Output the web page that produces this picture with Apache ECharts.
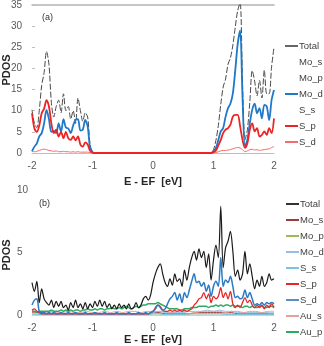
<!DOCTYPE html>
<html>
<head>
<meta charset="utf-8">
<script src="https://cdn.jsdelivr.net/npm/echarts@6/dist/echarts.min.js"></script>
<style>
html, body { margin: 0; padding: 0; background: #fff; }
#chart { width: 324px; height: 346px; }
</style>
</head>
<body>
<div id="chart"></div>
<script>
// energy grids (E - EF, eV): fine grid for main curves, coarse grid for the small ones
const energy = []
for (let i = 0; i <= 100; i++) energy.push(+(-2 + i * 0.04).toFixed(2))
const energyCoarse = []
for (let i = 0; i <= 40; i++) energyCoarse.push(+(-2 + i * 0.1).toFixed(1))

const xTicks = [-2, -1, 0, 1, 2]
const legendTop = ['Total', 'Mo_s', 'Mo_p', 'Mo_d', 'S_s', 'S_p', 'S_d']
const legendBottom = ['Total', 'Mo_s', 'Mo_p', 'Mo_d', 'S_s', 'S_p', 'S_d', 'Au_s', 'Au_p']

// ---- panel (a) ----
const gapZeros = [
  0, 0, 0, 0, 0, 0, 0, 0, 0, 0, 0, 0,
  0, 0, 0, 0, 0, 0, 0, 0, 0, 0, 0, 0,
  0, 0, 0, 0, 0, 0, 0, 0, 0, 0, 0, 0,
  0, 0, 0, 0, 0, 0, 0, 0, 0, 0, 0, 0
]
const aTotal = [
  10.2, 7, 6, 10, 16, 19, 24, 21, 12, 8.5, 11, 12.5, 9.5, 14, 10, 11, 8, 10, 7, 13, 10, 7.5, 9.5, 8.5, 2, 0.3
].concat(gapZeros, [
  0, 0.8, 3, 6.5, 11.5, 15.6, 17.5, 21, 22.5, 25.5, 29.8, 33.7, 35.5, 16.4, 3.1, 5.5, 12, 19.5, 17, 13.5,
  17.2, 13, 19.6, 14, 14, 20.4, 25
])
const aMo_d = [
  0.4, 1.5, 2.3, 3.9, 4.7, 7, 10.2, 8, 5, 5.2, 4.7, 7, 5, 8, 6, 5.8, 4.7, 6.5, 7.8, 8, 5.3, 5.5, 7.8, 6.3, 1.2, 0.2
].concat(gapZeros, [
  0, 0.4, 1.2, 3.1, 5.1, 5.9, 8.6, 10.6, 11.7, 14.1, 19.6, 25.8, 29, 13, 1.6, 3.1, 7, 10.2, 11.7, 9.4,
  10.6, 8.2, 11.4, 11, 7.8, 12.5, 14.9
])
const aS_p = [
  9.4, 5.8, 5, 6.5, 9.4, 10.5, 12.5, 11, 7, 4.7, 5.5, 3.9, 5, 3.5, 5, 3.5, 3.1, 3.9, 3, 3.9, 2, 1.5, 2.5, 2, 0.5, 0.1
].concat(gapZeros, [
  0, 0.2, 0.6, 1.8, 3.1, 4.7, 5.5, 5.9, 6.7, 8.6, 9, 9, 6.3, 3.1, 1.2, 2.3, 5.5, 7, 5.1, 5.9,
  3.9, 4.3, 5.1, 4.3, 5.9, 4.7, 8.2
])
const aS_d = [
  0.4, 0.3, 0.4, 0.6, 0.8, 0.9, 0.8, 0.6, 0.5, 0.4, 0.5, 0.3, 0.3, 0.4, 0.3, 0.3, 0.2, 0.3, 0.2, 0.3, 0.2, 0.2, 0.2, 0.2, 0.1, 0
].concat(gapZeros, [
  0, 0, 0.1, 0.3, 0.5, 0.6, 0.6, 0.7, 0.8, 1, 1.2, 1.3, 1.2, 0.8, 0.3, 0.5, 0.8, 0.9, 0.7, 0.8,
  0.6, 0.7, 0.8, 0.9, 1, 1.3, 1.5
])

// ---- panel (b) ----
const bTotal = [
  2.6, 1.9, 2.7, 1.0, 2.1, 1.3, 1.0, 0.8, 1.2, 0.6, 1.1, 0.7, 1.1, 0.6, 0.8, 0.4, 1.0, 0.6, 1.2, 0.6,
  0.9, 0.5, 1.0, 0.5, 0.9, 0.6, 1.1, 0.7, 1.2, 0.7, 1.1, 0.6, 0.9, 0.5, 0.8, 0.5, 0.9, 0.6, 0.8, 0.5,
  0.9, 0.5, 0.6, 1.0, 0.6, 0.8, 1.3, 1.5, 1.2, 1.6, 2.6, 3.3, 3.8, 4.1, 3.3, 2.6, 2.3, 2.9, 2.4, 3.3,
  2.7, 2.9, 2.3, 3.6, 2.8, 3.8, 4.6, 5.1, 4.4, 5.3, 4.6, 5.1, 3.8, 4.9, 2.8, 4.4, 5.6, 4.6, 8.7, 3.8,
  5.4, 5.9, 6.7, 5.1, 3.1, 3.6, 2.8, 3.3, 5.1, 3.3, 4.1, 3.1, 2.1, 2.8, 2.3, 3.1, 2.3, 2.6, 3.3, 2.8,
  2.9
]
const bS_d = [
  0.8, 1.2, 1.3, 0.3, 0.2, 0.2, 0.1, 0.2, 0.1, 0.2, 0.1, 0.1, 0.2, 0.1, 0.1, 0.2, 0.1, 0.1, 0.2, 0.1,
  0.1, 0.1, 0.2, 0.1, 0.1, 0.1, 0.2, 0.1, 0.1, 0.1, 0.2, 0.1, 0.1, 0.1, 0.1, 0.2, 0.1, 0.1, 0.1, 0.1,
  0.2, 0.1, 0.1, 0.1, 0.2, 0.1, 0.1, 0.2, 0.1, 0.2, 0.3, 0.5, 0.8, 0.6, 0.4, 0.5, 0.9, 1.3, 1.5, 1.8,
  1.2, 1.7, 1.0, 1.8, 1.4, 2.0, 2.7, 3.3, 2.6, 2.7, 2.3, 2.6, 1.9, 2.4, 1.5, 2.3, 2.7, 2.3, 4.6, 2.3,
  2.8, 2.6, 3.1, 2.3, 1.4, 1.5, 1.3, 1.4, 2.0, 1.4, 1.8, 1.3, 0.8, 0.9, 0.8, 1.0, 0.8, 1.0, 0.9, 1.0,
  0.9
]
const bS_p = [
  0.4, 0.5, 0.3, 0.2, 0.1, 0.1, 0.1, 0.1, 0.1, 0.1, 0.1, 0.1, 0.1, 0.1, 0.1, 0.1, 0.1, 0.1, 0.1, 0.1,
  0.1, 0.1, 0.1, 0.1, 0.1, 0.1, 0.1, 0.1, 0.1, 0.1, 0.1, 0.1, 0.1, 0.1, 0.1, 0.1, 0.1, 0.1, 0.1, 0.1,
  0.1, 0.1, 0.1, 0.1, 0.1, 0.1, 0.1, 0.1, 0.1, 0.2, 0.3, 0.6, 0.8, 0.7, 0.4, 0.3, 0.3, 0.4, 0.3, 0.4,
  0.3, 0.4, 0.3, 0.4, 0.3, 0.4, 0.5, 0.8, 1.0, 1.3, 1.4, 1.8, 1.3, 1.7, 1.0, 1.5, 1.3, 1.5, 2.2, 1.4,
  1.8, 1.3, 1.9, 0.9, 0.6, 0.8, 0.6, 1.0, 1.4, 1.0, 1.2, 0.8, 0.6, 0.8, 0.6, 0.8, 0.5, 0.8, 0.6, 0.9,
  0.6
]
const bAu_p = [
  0.3, 0.3, 0.2, 0.3, 0.3, 0.3, 0.3, 0.3, 0.4, 0.3, 0.3, 0.3, 0.4, 0.3, 0.4, 0.3, 0.4, 0.3, 0.4, 0.4,
  0.3, 0.4, 0.4, 0.5, 0.4, 0.4, 0.5, 0.4, 0.5, 0.5, 0.4, 0.5, 0.5, 0.6, 0.5, 0.5, 0.6, 0.5, 0.6, 0.7,
  0.6, 0.5, 0.6, 0.7, 0.6, 0.7, 0.8, 0.8, 0.9, 0.9, 0.9, 0.9, 1.0, 0.9, 0.8, 0.7, 0.6, 0.5, 0.5, 0.5,
  0.5, 0.4, 0.4, 0.5, 0.5, 0.5, 0.6, 0.6, 0.6, 0.7, 0.7, 0.7, 0.7, 0.6, 0.7, 0.7, 0.8, 0.7, 0.8, 0.7,
  0.8, 0.8, 0.7, 0.8, 0.7, 0.7, 0.7, 0.6, 0.7, 0.7, 0.6, 0.7, 0.6, 0.6, 0.7, 0.7, 0.6, 0.6, 0.7, 0.7,
  0.6
]
// small contributions, coarse grid
const bAu_s = [
  0.3, 0.2, 0.2, 0.3, 0.2, 0.2, 0.3, 0.2, 0.2, 0.3, 0.2, 0.2, 0.3, 0.2, 0.3, 0.2, 0.3, 0.3, 0.2, 0.3,
  0.3, 0.3, 0.3, 0.2, 0.3, 0.3, 0.3, 0.2, 0.3, 0.3, 0.3, 0.3, 0.2, 0.3, 0.3, 0.2, 0.3, 0.3, 0.2, 0.3,
  0.3
]
const bMo_s = [
  0.2, 0.2, 0.1, 0.1, 0.1, 0.1, 0.1, 0.1, 0.1, 0.1, 0.1, 0.1, 0.1, 0.1, 0.1, 0.1, 0.1, 0.1, 0.1, 0.1,
  0.2, 0.2, 0.1, 0.1, 0.1, 0.1, 0.1, 0.2, 0.2, 0.2, 0.2, 0.2, 0.2, 0.2, 0.1, 0.1, 0.1, 0.1, 0.1, 0.1,
  0.1
]
const bMo_p = [
  0.1, 0.1, 0.05, 0.05, 0.05, 0.05, 0.05, 0.05, 0.05, 0.05, 0.05, 0.05, 0.05, 0.05, 0.05, 0.05, 0.05, 0.05, 0.05, 0.05,
  0.1, 0.1, 0.05, 0.05, 0.05, 0.05, 0.1, 0.1, 0.1, 0.1, 0.1, 0.1, 0.1, 0.1, 0.05, 0.05, 0.05, 0.05, 0.05, 0.05,
  0.05
]
const bMo_d = [
  0.3, 0.3, 0.2, 0.1, 0.1, 0.1, 0.1, 0.1, 0.1, 0.1, 0.1, 0.1, 0.1, 0.1, 0.1, 0.1, 0.1, 0.1, 0.1, 0.1,
  0.2, 0.3, 0.2, 0.2, 0.2, 0.2, 0.3, 0.3, 0.3, 0.4, 0.3, 0.4, 0.3, 0.3, 0.2, 0.2, 0.2, 0.2, 0.2, 0.2,
  0.2
]
const bS_s = [
  0.05, 0.05, 0.05, 0.05, 0.05, 0.05, 0.05, 0.05, 0.05, 0.05, 0.05, 0.05, 0.05, 0.05, 0.05, 0.05, 0.05, 0.05, 0.05, 0.05,
  0.1, 0.1, 0.05, 0.05, 0.05, 0.05, 0.1, 0.1, 0.1, 0.1, 0.1, 0.1, 0.05, 0.05, 0.05, 0.05, 0.05, 0.05, 0.05, 0.05,
  0.05
]

const FONT = "'Liberation Sans', Arial, sans-serif"
const colors = {
  aTotal: '#4a4a4a', aMo_d: '#1f78c8', aS_p: '#ee2424', aS_d: '#f26d6d',
  bTotal: '#1a1a1a', bMo_s: '#9e3a3a', bMo_p: '#9bbb59', bMo_d: '#95bde6', bS_s: '#7cc3e0',
  bS_p: '#e8262a', bS_d: '#2b7bc4', bAu_s: '#e6a0a0', bAu_p: '#2eaa5e'
}

const pairs = (xs, ys) => xs.map((x, i) => [x, ys[i]])

function line (name, xAxisIndex, xs, ys, color, width, extra) {
  return Object.assign({
    name,
    type: 'line',
    xAxisIndex,
    yAxisIndex: xAxisIndex === 0 ? 0 : 1,
    data: pairs(xs, ys),
    symbol: 'none',
    smooth: 0.3,
    lineStyle: { color, width },
    itemStyle: { color },
    animation: false
  }, extra || {})
}

const hidden = 'rgba(0,0,0,0)'
const lg = (name, color) => ({ name, icon: 'rect', itemStyle: { color, borderWidth: 0 } })

const chart = echarts.init(document.getElementById('chart'))

const xLabel = { fontSize: 10, color: '#595959', fontFamily: FONT, margin: 8, formatter: v => String(v) }
const xName = { fontSize: 11, fontWeight: 'bold', color: '#262626', fontFamily: FONT }
const legendBase = {
  orient: 'vertical', padding: 0, itemGap: 4, itemWidth: 13, itemHeight: 2,
  textStyle: { fontSize: 9.5, color: '#404040', padding: [0, 0, 0, -4], lineHeight: 12, fontFamily: FONT }
}

const option = {
  animation: false,
  textStyle: { fontFamily: FONT },
  grid: [
    { left: 32, top: 4, width: 242, height: 149 },
    { left: 32, top: 190, width: 242, height: 130 }
  ],
  xAxis: [
    {
      gridIndex: 0, type: 'value', min: -2, max: 2, interval: 1,
      axisLine: { lineStyle: { color: '#bfbfbf' } }, axisTick: { show: false },
      axisLabel: xLabel, splitLine: { show: false },
      name: 'E - EF  [eV]', nameLocation: 'middle', nameGap: 23, nameTextStyle: xName
    },
    {
      gridIndex: 0, type: 'value', min: -2, max: 2, position: 'top',
      axisLine: { show: true, lineStyle: { color: '#b3b3b3', width: 1.5 } },
      axisTick: { show: false }, axisLabel: { show: false }, splitLine: { show: false }
    },
    {
      gridIndex: 1, type: 'value', min: -2, max: 2, interval: 1,
      axisLine: { lineStyle: { color: '#d0d0d0' } }, axisTick: { show: false },
      axisLabel: xLabel, splitLine: { show: false },
      name: 'E - EF  [eV]', nameLocation: 'middle', nameGap: 17, nameTextStyle: xName
    }
  ],
  yAxis: [
    {
      gridIndex: 0, type: 'value', min: 0, max: 35, interval: 5,
      axisLine: { show: false, onZero: false },
      axisTick: { show: true, inside: true, length: 3, lineStyle: { color: '#bfbfbf' } },
      axisLabel: { fontSize: 10, color: '#595959', margin: 10 },
      splitLine: { show: false }
    },
    {
      gridIndex: 1, type: 'value', min: 0, max: 10, interval: 5,
      axisLine: { show: false, onZero: false }, axisTick: { show: false },
      axisLabel: { fontSize: 10, color: '#595959', margin: 15, align: 'left' },
      splitLine: { show: false }
    }
  ],
  legend: [
    Object.assign({}, legendBase, {
      left: 285, top: 40,
      data: [
        lg('Total', '#666666'), lg('Mo_s', hidden), lg('Mo_p', hidden), lg('Mo_d', colors.aMo_d),
        lg('S_s', hidden), lg('S_p', colors.aS_p), lg('S_d', colors.aS_d)
      ]
    }),
    Object.assign({}, legendBase, {
      left: 286, top: 198,
      data: [
        lg('Total', '#333333'), lg('Mo_s', colors.bMo_s), lg('Mo_p', colors.bMo_p), lg('Mo_d', colors.bMo_d),
        lg('S_s', colors.bS_s), lg('S_p', colors.bS_p), lg('S_d', '#5b8ec6'), lg('Au_s', colors.bAu_s), lg('Au_p', colors.bAu_p)
      ]
    })
  ],
  graphic: [
    { type: 'text', left: 42, top: 13, style: { text: '(a)', fontSize: 9, fill: '#333', fontFamily: FONT } },
    { type: 'text', left: 39, top: 199, style: { text: '(b)', fontSize: 9, fill: '#333', fontFamily: FONT } },
    { type: 'text', x: 7, y: 70, rotation: Math.PI / 2,
      style: { text: 'PDOS', fontSize: 11, fontWeight: 'bold', fill: '#262626', align: 'center', verticalAlign: 'middle', fontFamily: FONT } },
    { type: 'text', x: 7, y: 255, rotation: Math.PI / 2,
      style: { text: 'PDOS', fontSize: 11, fontWeight: 'bold', fill: '#262626', align: 'center', verticalAlign: 'middle', fontFamily: FONT } }
  ],
  series: [
    // panel (a)
    line('Total', 0, energy, aTotal, colors.aTotal, 1, { lineStyle: { color: colors.aTotal, width: 1, type: [6, 2] } }),
    line('Mo_s', 0, [], [], hidden, 1),
    line('Mo_p', 0, [], [], hidden, 1),
    line('Mo_d', 0, energy, aMo_d, colors.aMo_d, 1.8),
    line('S_s', 0, [], [], hidden, 1),
    line('S_d', 0, energy, aS_d, colors.aS_d, 1),
    line('S_p', 0, energy, aS_p, colors.aS_p, 1.8, { z: 3 }),
    // panel (b)
    line('Mo_s', 2, energyCoarse, bMo_s, colors.bMo_s, 1),
    line('Mo_p', 2, energyCoarse, bMo_p, colors.bMo_p, 1),
    line('Mo_d', 2, energyCoarse, bMo_d, colors.bMo_d, 1),
    line('S_s', 2, energyCoarse, bS_s, colors.bS_s, 1),
    line('Au_s', 2, energyCoarse, bAu_s, colors.bAu_s, 1),
    line('Au_p', 2, energy, bAu_p, colors.bAu_p, 1.5),
    line('S_p', 2, energy, bS_p, colors.bS_p, 1.3),
    line('S_d', 2, energy, bS_d, colors.bS_d, 1.5),
    line('Total', 2, energy, bTotal, colors.bTotal, 1.2)
  ]
}

chart.setOption(option)
</script>
</body>
</html>
